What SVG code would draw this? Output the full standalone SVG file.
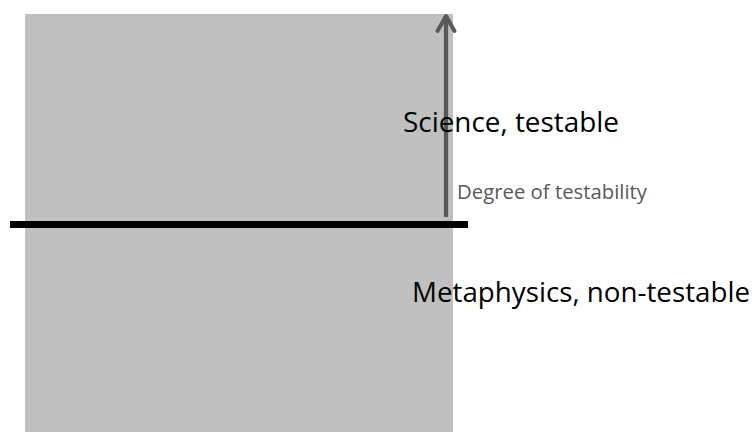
<svg xmlns="http://www.w3.org/2000/svg" width="754" height="432" viewBox="0 0 754 432">
<style>
.big{font-family:"Open Sans","Liberation Sans",sans-serif;font-size:27px;fill:#000}
.small{font-family:"Open Sans","Liberation Sans",sans-serif;font-size:20px;fill:#595959}
</style>
<rect width="754" height="432" fill="#fff"/>
<g id="field"><rect x="25" y="14" width="428" height="418" fill="#c0c0c0"/></g>
<g id="connectors">
<line x1="10" y1="224.5" x2="468" y2="224.5" stroke="#000" stroke-width="7"/>
<line x1="446" y1="217" x2="446" y2="16" stroke="#595959" stroke-width="4.3"/>
<polyline points="437.5,31 446,16 454.5,31" fill="none" stroke="#595959" stroke-width="4" stroke-linecap="round" stroke-linejoin="round"/>
</g>
<g id="science"><text class="big" x="403" y="132" textLength="216" lengthAdjust="spacingAndGlyphs">Science, testable</text></g>
<g id="degree"><text class="small" x="457" y="199" textLength="190" lengthAdjust="spacingAndGlyphs">Degree of testability</text></g>
<g id="metaphysics"><text class="big" x="412" y="302" textLength="338" lengthAdjust="spacingAndGlyphs">Metaphysics, non-testable</text></g>
</svg>
